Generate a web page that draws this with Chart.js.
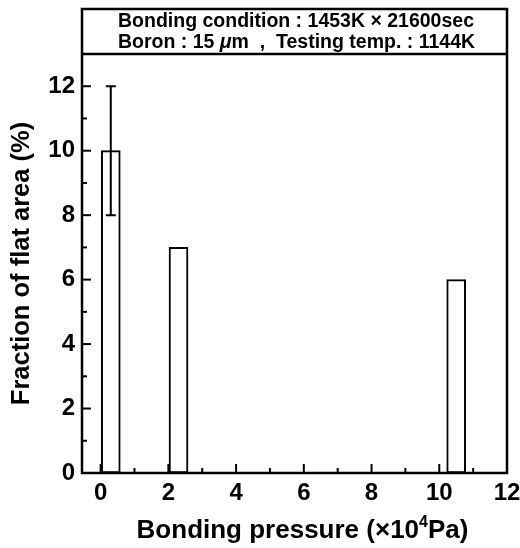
<!DOCTYPE html>
<html>
<head>
<meta charset="utf-8">
<script src="https://cdn.jsdelivr.net/npm/chart.js@4/dist/chart.umd.min.js"></script>
<style>
  html, body { margin: 0; padding: 0; background: #fff; }
  #wrap { width: 520px; height: 548px; position: relative; }
</style>
</head>
<body>
<div id="wrap"><canvas id="flatChart"></canvas></div>
<script>
// data
const pressures = [0.3, 2.3, 10.5];          // x 10^4 Pa
const flatFractions = [10, 7, 6];            // %
const errorLow = [8, null, null];
const errorHigh = [12, null, null];
const xMajorTicks = [0, 2, 4, 6, 8, 10, 12];
const yMajorTicks = [0, 2, 4, 6, 8, 10, 12];
const headerLine1 = "Bonding condition : 1453K \u00D7 21600sec";
const headerLine2 = ["Boron : 15 ", "\u03BC", "m  ,  Testing temp. : 1144K"];
const xTitleParts = ["Bonding pressure (\u00D710", "4", "Pa)"];

const FONT = "'Liberation Sans', Arial, Helvetica, sans-serif";
Chart.defaults.font.family = FONT;
Chart.defaults.color = "#000";

const frameTop = 9;

const framePlugin = {
  id: "frame",
  afterDatasetsDraw(chart) {
    const { ctx, chartArea, scales } = chart;
    const { left, right, top, bottom } = chartArea;
    const x = scales.x;
    const y = scales.y;
    ctx.save();
    ctx.strokeStyle = "#000";
    ctx.lineCap = "butt";

    // error bars
    ctx.lineWidth = 2;
    pressures.forEach((p, i) => {
      if (errorLow[i] == null) return;
      const px = x.getPixelForValue(p);
      const y1 = y.getPixelForValue(errorLow[i]);
      const y2 = y.getPixelForValue(errorHigh[i]);
      ctx.beginPath();
      ctx.moveTo(px, y1); ctx.lineTo(px, y2);
      ctx.moveTo(px - 5, y1); ctx.lineTo(px + 5, y1);
      ctx.moveTo(px - 5, y2); ctx.lineTo(px + 5, y2);
      ctx.stroke();
    });

    // inward ticks
    x.ticks.forEach((t) => {
      if (t.value < 0 || t.value > 12) return;
      const px = x.getPixelForValue(t.value);
      const len = xMajorTicks.includes(t.value) ? 9 : 5;
      ctx.beginPath();
      ctx.moveTo(px, bottom); ctx.lineTo(px, bottom - len);
      ctx.stroke();
    });
    y.ticks.forEach((t) => {
      if (t.value > 12) return;
      const py = y.getPixelForValue(t.value);
      const len = yMajorTicks.includes(t.value) ? 9 : 5;
      ctx.beginPath();
      ctx.moveTo(left, py); ctx.lineTo(left + len, py);
      ctx.stroke();
    });

    // frame and header box
    ctx.lineWidth = 2.5;
    ctx.strokeRect(left, frameTop, right - left, bottom - frameTop);
    ctx.beginPath();
    ctx.moveTo(left, top); ctx.lineTo(right, top);
    ctx.stroke();

    // header text
    ctx.fillStyle = "#000";
    ctx.textBaseline = "alphabetic";
    ctx.textAlign = "left";
    const tx = 118;
    ctx.font = "bold 19.5px " + FONT;
    ctx.fillText(headerLine1, tx, 27);
    let cx = tx;
    headerLine2.forEach((part, i) => {
      ctx.font = (i === 1 ? "italic bold 19.5px " : "bold 19.5px ") + FONT;
      ctx.fillText(part, cx, 48);
      cx += ctx.measureText(part).width;
    });

    // x axis title with a real superscript
    const big = "bold 26px " + FONT;
    const small = "bold 16px " + FONT;
    const widths = xTitleParts.map((part, i) => {
      ctx.font = i === 1 ? small : big;
      return ctx.measureText(part).width;
    });
    const total = widths.reduce((a, b) => a + b, 0);
    let sx = (left + right) / 2 + 8 - total / 2;
    xTitleParts.forEach((part, i) => {
      ctx.font = i === 1 ? small : big;
      ctx.fillText(part, sx, i === 1 ? 527 : 538);
      sx += widths[i];
    });
    ctx.restore();
  },
};

new Chart(document.getElementById("flatChart"), {
  type: "bar",
  data: {
    datasets: [
      {
        data: pressures.map((p, i) => ({ x: p, y: flatFractions[i] })),
        backgroundColor: "#fff",
        borderColor: "#000",
        borderWidth: 2,
        borderSkipped: false,
        barThickness: 19,
      },
    ],
  },
  options: {
    responsive: true,
    maintainAspectRatio: false,
    animation: false,
    layout: { padding: { top: 54, right: 13, left: 0, bottom: 0 } },
    plugins: { legend: { display: false }, tooltip: { enabled: false } },
    scales: {
      x: {
        type: "linear",
        offset: false,
        min: -0.55,
        max: 12,
        grid: { display: false, drawTicks: false, offset: false },
        border: { display: false },
        ticks: {
          stepSize: 1,
          includeBounds: false,
          autoSkip: false,
          maxRotation: 0,
          padding: 6,
          font: { size: 24, weight: "bold" },
          callback: (v) => (xMajorTicks.includes(v) ? v : ""),
        },
        title: { display: false },
        afterFit: (scale) => {
          scale.height = 75;
          scale.paddingLeft = 0;
          scale.paddingRight = 0;
        },
      },
      y: {
        min: 0,
        max: 13,
        grid: { display: false, drawTicks: false },
        border: { display: false },
        ticks: {
          stepSize: 1,
          includeBounds: false,
          autoSkip: false,
          padding: 7,
          font: { size: 24, weight: "bold" },
          callback: (v) => (yMajorTicks.includes(v) ? v : ""),
        },
        title: {
          display: true,
          text: "Fraction of flat area (%)",
          font: { size: 25.5, weight: "bold" },
          padding: { top: 7, bottom: 0 },
        },
        afterFit: (scale) => { scale.width = 82; },
      },
    },
  },
  plugins: [framePlugin],
});
</script>
</body>
</html>
